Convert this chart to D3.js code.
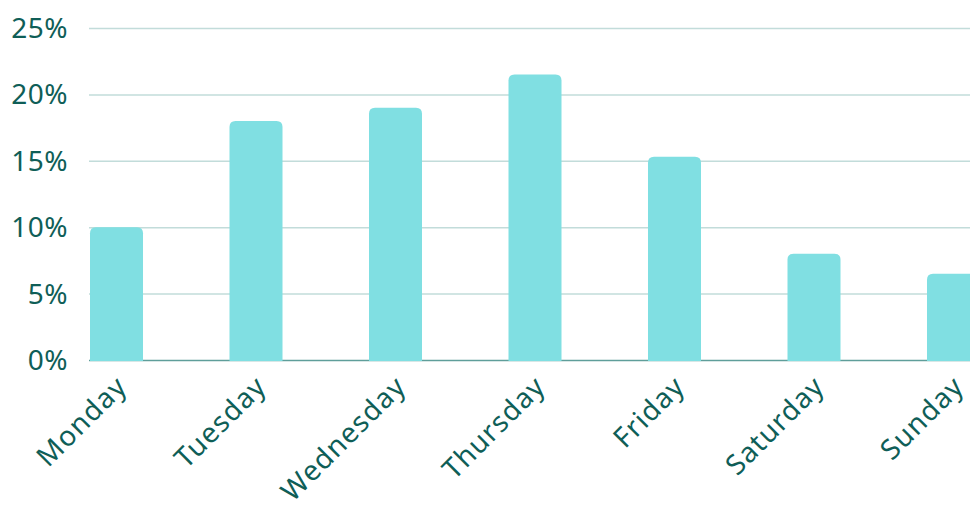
<!DOCTYPE html>
<html>
<head>
<meta charset="utf-8">
<script src="https://cdn.jsdelivr.net/npm/d3@7"></script>
<style>
  body { margin: 0; background: #fff; overflow: hidden; }
  text { font-family: "Noto Sans", sans-serif; fill: #0f5e57; }
</style>
</head>
<body>
<div id="chart"></div>
<script>
// data
const days = ['Monday', 'Tuesday', 'Wednesday', 'Thursday', 'Friday', 'Saturday', 'Sunday'];
const shares = [10, 18, 19, 21.5, 15.3, 8, 6.5];
const yTicks = [0, 5, 10, 15, 20, 25];

const W = 970, H = 508;
const plotLeft = 90, plotTop = 28, plotBottom = 360;

let svg = d3.select('#chart').append('svg')
  .attr('width', W)
  .attr('height', H);

let x = d3.scaleBand()
  .domain(days)
  .range([plotLeft, 980])
  .paddingInner(0.62)
  .paddingOuter(0)
  .align(0);

let y = d3.scaleLinear()
  .domain([0, 25])
  .range([plotBottom, plotTop]);

// gridlines
svg.append('g')
  .selectAll('line')
  .data(yTicks.filter(d => d > 0))
  .enter().append('line')
  .attr('x1', 89)
  .attr('x2', W)
  .attr('y1', d => y(d) + 0.5)
  .attr('y2', d => y(d) + 0.5)
  .attr('stroke', '#c2dcda')
  .attr('stroke-width', 1.5);

// baseline
svg.append('line')
  .attr('x1', 89).attr('x2', W)
  .attr('y1', y(0) + 0.5).attr('y2', y(0) + 0.5)
  .attr('stroke', '#5f9e9a')
  .attr('stroke-width', 1.5);

// y labels
svg.append('g')
  .selectAll('text')
  .data(yTicks)
  .enter().append('text')
  .attr('x', 68)
  .attr('y', d => y(d) + 10)
  .attr('text-anchor', 'end')
  .style('font-size', '28px')
  .style('letter-spacing', '0.5px')
  .text(d => d + '%');

// bars with rounded top corners
const r = 6;
function barPath(d, i) {
  let x0 = x(days[i]), x1 = x0 + x.bandwidth();
  let y0 = y(d), y1 = y(0) + 1;
  return `M${x0},${y1}V${y0 + r}Q${x0},${y0} ${x0 + r},${y0}H${x1 - r}Q${x1},${y0} ${x1},${y0 + r}V${y1}Z`;
}

svg.append('g')
  .selectAll('path')
  .data(shares)
  .enter().append('path')
  .attr('d', barPath)
  .attr('fill', '#80dfe2');

// x labels, rotated
svg.append('g')
  .selectAll('text')
  .data(days)
  .enter().append('text')
  .attr('transform', d => 'translate(' + (x(d) + x.bandwidth() / 2 + 12) + ',388) rotate(-45)')
  .attr('text-anchor', 'end')
  .style('font-size', '28px')
  .style('letter-spacing', '1.1px')
  .text(d => d);
</script>
</body>
</html>
